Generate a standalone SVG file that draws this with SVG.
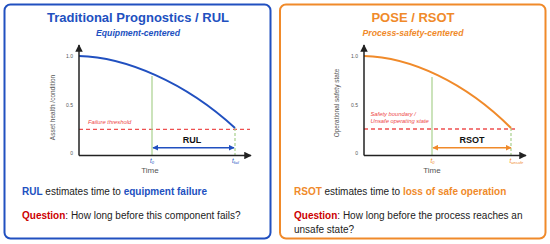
<svg xmlns="http://www.w3.org/2000/svg" width="550" height="244" viewBox="0 0 550 244">
<defs>
<marker id="ax" viewBox="0 0 10 10" refX="9" refY="5" markerWidth="5" markerHeight="5" orient="auto"><path d="M0,0 L10,5 L0,10 z" fill="#222"/></marker>
<marker id="ab" viewBox="0 0 10 10" refX="9" refY="5" markerWidth="4" markerHeight="4" orient="auto-start-reverse"><path d="M0,0 L10,5 L0,10 z" fill="#2150C0"/></marker>
<marker id="ao" viewBox="0 0 10 10" refX="9" refY="5" markerWidth="4" markerHeight="4" orient="auto-start-reverse"><path d="M0,0 L10,5 L0,10 z" fill="#F08A2A"/></marker>
</defs>
<style>
text{font-family:"Liberation Sans",Arial,sans-serif}
.panel{fill:#fff;stroke-width:2}
.title{font-size:13px;font-weight:bold;text-anchor:middle}
.sub{font-size:8.7px;font-weight:bold;font-style:italic;text-anchor:middle}
.axis{stroke:#222;stroke-width:1.5;fill:none}
.tick{font-size:5px;fill:#555;text-anchor:end}
.ylab{font-size:6.5px;fill:#555;text-anchor:middle}
.time{font-size:8px;fill:#555;text-anchor:middle}
.thr{stroke:#EE5050;stroke-width:1.3;stroke-dasharray:4,3}
.thrt{font-size:5.8px;font-style:italic;fill:#EE4848}
.g{stroke:#A8D08D;stroke-width:1.2}
.gd{stroke:#A8D08D;stroke-width:1.2;stroke-dasharray:3,2}
.lab{font-size:9px;font-weight:bold;fill:#111;text-anchor:middle}
.tl{font-size:6.3px;font-style:italic}
.body{font-size:10px;fill:#222}
.b{font-weight:bold}
</style>
<g id="left-panel">
<rect class="panel" x="4.5" y="4.5" width="266" height="234" rx="6" stroke="#2150C0"/>
<text class="title" x="138" y="21.7" fill="#2150C0">Traditional Prognostics / RUL</text>
<text class="sub" x="138" y="36" fill="#2150C0">Equipment-centered</text>
</g>
<g id="right-panel">
<rect class="panel" x="280" y="4.5" width="265.5" height="234" rx="6" stroke="#F08A2A"/>
<text class="title" x="413" y="21.7" fill="#F08A2A">POSE / RSOT</text>
<text class="sub" x="413" y="36" fill="#F08A2A">Process-safety-centered</text>
</g>
<g id="left-chart">
<line class="thr" x1="79" y1="129.3" x2="250" y2="129.3"/>
<text class="thrt" x="88" y="124">Failure threshold</text>
<line class="g" x1="152" y1="76" x2="152" y2="155.5"/>
<line class="gd" x1="235" y1="128" x2="235" y2="155.5"/>
<path d="M79,56 C125,57 185,82 235,128" fill="none" stroke="#2150C0" stroke-width="2"/>
<line class="axis" x1="79" y1="155.5" x2="79" y2="45" marker-end="url(#ax)"/>
<line class="axis" x1="79" y1="155.5" x2="251" y2="155.5" marker-end="url(#ax)"/>
<text class="tick" x="73" y="58">1.0</text>
<text class="tick" x="73" y="106.5">0.5</text>
<text class="tick" x="73" y="155">0</text>
<text class="ylab" transform="translate(54.5,107.5) rotate(-90)">Asset health /condition</text>
<text class="time" x="150" y="172.5">Time</text>
<line x1="153" y1="147.7" x2="234" y2="147.7" stroke="#2150C0" stroke-width="1.5" marker-start="url(#ab)" marker-end="url(#ab)"/>
<text class="lab" x="192" y="142.7">RUL</text>
<text class="tl" x="150" y="163" fill="#2150C0">t<tspan font-size="4" dy="1">0</tspan></text>
<text class="tl" x="232" y="163" fill="#2150C0">t<tspan font-size="4" dy="1">fail</tspan></text>
</g>
<g id="right-chart">
<line class="thr" x1="364" y1="129" x2="518" y2="129"/>
<text class="thrt" x="370.5" y="116">Safety boundary /</text>
<text class="thrt" x="370.5" y="122.8">Unsafe operating state</text>
<line class="g" x1="432" y1="77" x2="432" y2="155.5"/>
<line class="gd" x1="511" y1="128" x2="511" y2="155.5"/>
<path d="M364,56 C410,57 465,82 511,128" fill="none" stroke="#F08A2A" stroke-width="2"/>
<line class="axis" x1="364" y1="155.5" x2="364" y2="45" marker-end="url(#ax)"/>
<line class="axis" x1="364" y1="155.5" x2="526" y2="155.5" marker-end="url(#ax)"/>
<text class="tick" x="358" y="58">1.0</text>
<text class="tick" x="358" y="106.5">0.5</text>
<text class="tick" x="358" y="155">0</text>
<text class="ylab" transform="translate(338.5,103) rotate(-90)">Operational safety state</text>
<text class="time" x="432" y="172.5">Time</text>
<line x1="433" y1="147.7" x2="511" y2="147.7" stroke="#F08A2A" stroke-width="1.5" marker-start="url(#ao)" marker-end="url(#ao)"/>
<text class="lab" x="472" y="143">RSOT</text>
<text class="tl" x="430.5" y="163" fill="#F08A2A">t<tspan font-size="4" dy="1">0</tspan></text>
<text class="tl" x="509.5" y="163" fill="#F08A2A">t<tspan font-size="4" dy="1">unsafe</tspan></text>
</g>
<g id="left-text">
<text class="body" x="22" y="195"><tspan class="b" fill="#2150C0">RUL</tspan> estimates time to <tspan class="b" fill="#2150C0">equipment failure</tspan></text>
<text class="body" x="22" y="219"><tspan class="b" fill="#CC0000">Question</tspan>: How long before this component fails?</text>
</g>
<g id="right-text">
<text class="body" x="294" y="195"><tspan class="b" fill="#F08A2A">RSOT</tspan> estimates time to <tspan class="b" fill="#F08A2A">loss of safe operation</tspan></text>
<text class="body" x="294" y="219"><tspan class="b" fill="#CC0000">Question</tspan>: How long before the process reaches an</text>
<text class="body" x="294" y="232.5">unsafe state?</text>
</g>
</svg>
